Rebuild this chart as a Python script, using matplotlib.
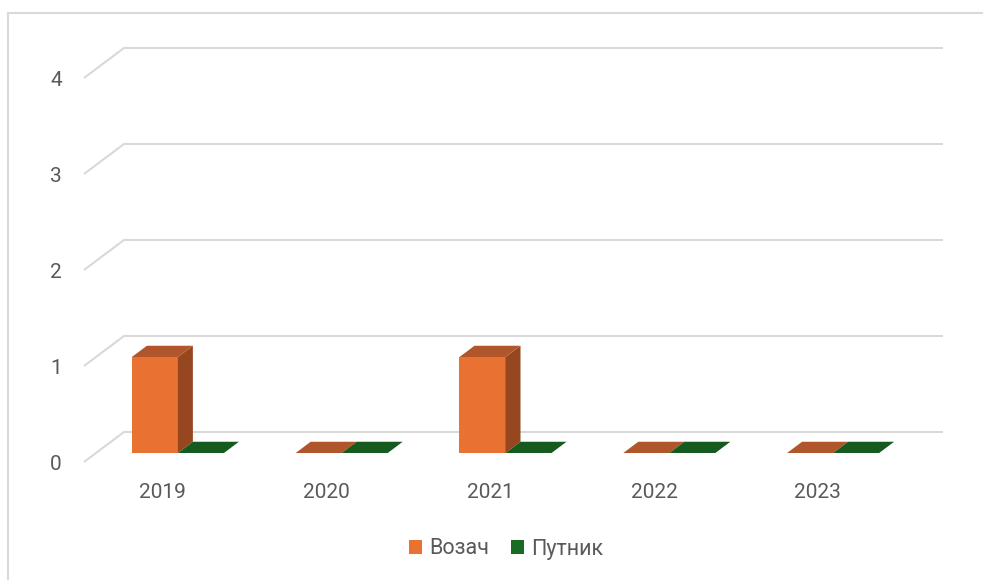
import matplotlib.pyplot as plt
from matplotlib.patches import Polygon, Patch
from matplotlib.lines import Line2D
import numpy as np

plt.rcParams['font.family'] = ['Roboto', 'DejaVu Sans']

years = ['2019', '2020', '2021', '2022', '2023']
series_names = ['Возач', 'Путник']
vozac = [1, 0, 1, 0, 0]
putnik = [0, 0, 0, 0, 0]
y_ticks = [0, 1, 2, 3, 4]

front_colors = ['#E97132', '#196B24']
top_colors = ['#B1552A', '#155A1E']
side_colors = ['#964720', '#10491A']

# fake 3d depth (full floor depth in data units)
DX = 0.244
DY = 0.3125
bar_w = 0.281
d0, d1 = 0.3, 0.675

W, H = 983, 580
fig = plt.figure(figsize=(W / 100, H / 100), dpi=100)
ax = fig.add_axes([84 / W, (H - 462) / H, (943 - 84) / W, (462 - 48) / H])
n = len(years)
ax.set_xlim(0, n + DX)
ax.set_ylim(0, 4 + DY)

# grid: slanted side wall line + back line
for v in y_ticks:
    ax.plot([0, DX, n + DX], [v, v + DY, v + DY], color='#D9D9D9', lw=1.5,
            solid_capstyle='butt', zorder=1, clip_on=False)


def draw_bar(x0, v, k):
    x1 = x0 + bar_w
    ax0, ay0 = d0 * DX, d0 * DY
    ax1, ay1 = d1 * DX, d1 * DY
    top = [(x0 + ax0, v + ay0), (x1 + ax0, v + ay0), (x1 + ax1, v + ay1), (x0 + ax1, v + ay1)]
    if v > 0:
        front = [(x0 + ax0, ay0), (x1 + ax0, ay0), (x1 + ax0, v + ay0), (x0 + ax0, v + ay0)]
        side = [(x1 + ax0, ay0), (x1 + ax1, ay1), (x1 + ax1, v + ay1), (x1 + ax0, v + ay0)]
        ax.add_patch(Polygon(front, closed=True, fc=front_colors[k], ec='none', zorder=3))
        ax.add_patch(Polygon(side, closed=True, fc=side_colors[k], ec='none', zorder=3))
    ax.add_patch(Polygon(top, closed=True, fc=top_colors[k], ec='none', zorder=3))


for i in range(n):
    for k, vals in enumerate([vozac, putnik]):
        x0 = i + 0.5 - bar_w + k * bar_w
        draw_bar(x0, vals[i], k)

for s in ax.spines.values():
    s.set_visible(False)
ax.set_yticks(y_ticks)
ax.set_yticklabels([str(t) for t in y_ticks])
ax.set_xticks(np.arange(n) + 0.48)
ax.set_xticklabels(years)
ax.tick_params(axis='y', length=0, pad=16, labelsize=15, labelcolor='#595959')
ax.tick_params(axis='x', length=0, pad=15, labelsize=15, labelcolor='#595959')

handles = [Patch(fc=front_colors[0], ec='none', label=series_names[0]),
           Patch(fc=front_colors[1], ec='none', label=series_names[1])]
leg = fig.legend(handles=handles, loc='center', bbox_to_anchor=(506 / W, 1 - 549 / H), ncol=2,
                 frameon=False, fontsize=15.5, handlelength=0.6, handleheight=0.6,
                 handletextpad=0.35, columnspacing=1.0)
for t in leg.get_texts():
    t.set_color('#595959')

# chart border (cut off at right and bottom)
fig.add_artist(Line2D([7.5 / W, 7.5 / W], [0, 1 - 12.5 / H], color='#D9D9D9', lw=1.5, transform=fig.transFigure))
fig.add_artist(Line2D([7.5 / W, 1], [1 - 12.5 / H, 1 - 12.5 / H], color='#D9D9D9', lw=1.5, transform=fig.transFigure))

fig.savefig('out.png', dpi=100)
